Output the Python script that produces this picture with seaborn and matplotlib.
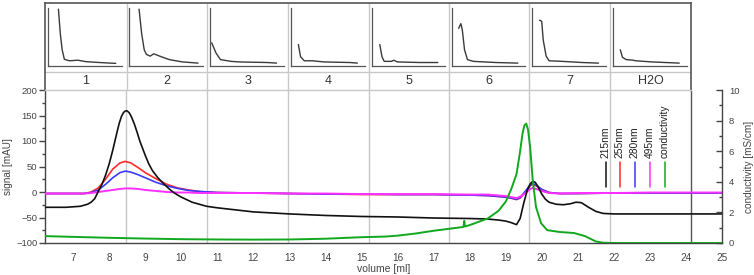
import numpy as np
import pandas as pd
import matplotlib
matplotlib.use("Agg")
import matplotlib.pyplot as plt
import seaborn as sns

# ---------------- data ----------------
x_215 = [6.22, 6.8, 7.0, 7.2, 7.4, 7.5, 7.6, 7.69, 7.8, 7.9, 8.0, 8.1, 8.16, 8.22, 8.28, 8.34, 8.4, 8.45, 8.5,
         8.56, 8.62, 8.7, 8.78, 8.85, 9.0, 9.1, 9.2, 9.35, 9.5, 9.65, 9.77, 9.9, 10.0, 10.3, 10.7, 11.0, 11.5,
         12.0, 13.0, 14.0, 15.0, 16.0, 17.0, 18.0, 18.5, 18.8, 19.0, 19.15, 19.3, 19.4, 19.5, 19.6, 19.68,
         19.75, 19.82, 19.9, 20.0, 20.1, 20.2, 20.4, 20.6, 20.8, 20.95, 21.1, 21.3, 21.5, 21.7, 22.0, 23.0,
         24.0, 25.0]
y_215 = [-30, -30, -29, -28, -24, -20, -13, 0, 15, 33, 55, 82, 100, 118, 135, 148, 156, 159, 159,
         155, 147, 133, 116, 100, 72, 55, 42, 28, 17, 7, 0, -6, -10, -20, -28, -31, -35,
         -39, -43, -46, -48, -49, -51, -52, -53, -55, -57, -60, -64, -52, -22, 4, 16,
         21, 19, 10, -4, -14, -20, -24, -25, -23, -20, -21, -30, -38, -42, -43, -43,
         -43, -43]

x_uv = [6.22, 7.0, 7.3, 7.5, 7.7, 7.9, 8.1, 8.3, 8.45, 8.6, 8.8, 9.0, 9.3, 9.6, 9.9, 10.2, 10.5, 11.0, 12.0, 13.0,
        14.0, 15.0, 16.0, 17.0, 18.0, 18.5, 19.0, 19.15, 19.3, 19.4, 19.55, 19.68, 19.75, 19.85, 20.0, 20.2,
        20.5, 21.0, 22.0, 23.0, 24.0, 25.0]
y_255 = [-3, -3, -3, 0, 8, 25, 45, 57, 60, 57, 48, 38, 26, 15, 8, 4, 1, -1, -2, -3,
         -4, -5, -5, -5, -6, -7, -10, -12, -15, -12, 0, 12, 15, 12, 5, -1,
         -3, -3, -2, -2, -2, -2]
y_280 = [-3, -3, -3, -1, 4, 15, 28, 38, 41, 39, 34, 28, 19, 12, 7, 3, 1, -1, -2, -3,
         -4, -4, -5, -5, -6, -7, -10, -12, -14, -11, 2, 14, 17, 13, 5, -1,
         -3, -3, -2, -2, -2, -2]
y_495 = [-3, -3, -3, -2, 0, 2, 4, 6, 7, 7, 6, 4, 2, 0, -1, -1, -2, -2, -2, -3,
         -3, -4, -4, -4, -5, -5, -8, -10, -12, -9, -2, 6, 8, 6, 2, -2,
         -3, -2, -2, -1, -1, -1]

x_cond = [6.22, 7.0, 8.0, 9.0, 10.0, 11.0, 12.0, 13.0, 14.0, 15.0, 15.65, 16.0, 16.5, 17.0, 17.5, 17.83, 17.85,
          17.87, 18.0, 18.5, 18.8, 19.0, 19.15, 19.3, 19.4, 19.47, 19.52, 19.57, 19.62, 19.68, 19.75, 19.84,
          19.98, 20.15, 20.5, 20.9, 21.2, 21.5, 21.7, 22.0, 23.0, 24.0, 25.0]
y_cond = [0.45, 0.40, 0.34, 0.29, 0.25, 0.23, 0.22, 0.23, 0.28, 0.38, 0.42, 0.48, 0.62, 0.80, 0.95, 1.05, 1.45,
          1.08, 1.17, 1.60, 2.10, 2.70, 3.50, 4.50, 6.00, 7.20, 7.70, 7.80, 7.40, 6.20, 4.10, 2.36,
          1.30, 0.84, 0.72, 0.65, 0.45, 0.10, 0.02, 0.0, 0.0, 0.0, 0.0]

fractions = ["1", "2", "3", "4", "5", "6", "7", "H2O"]
fraction_edges = [6.22, 8.48, 10.72, 12.96, 15.2, 17.43, 19.65, 21.89, 24.13]

# small absorbance traces shown above each fraction (normalised)
inset_x = {
    "1": [0.14, 0.165, 0.19, 0.22, 0.29, 0.40, 0.51, 0.69, 0.91],
    "2": [0.13, 0.165, 0.20, 0.23, 0.28, 0.33, 0.41, 0.54, 0.72, 0.93],
    "3": [0.02, 0.08, 0.14, 0.28, 0.40, 0.77, 0.90],
    "4": [0.10, 0.13, 0.18, 0.29, 0.45, 0.80, 0.90],
    "5": [0.11, 0.14, 0.17, 0.27, 0.30, 0.35, 0.66, 0.90],
    "6": [0.09, 0.12, 0.14, 0.17, 0.21, 0.29, 0.60, 0.90],
    "7": [0.10, 0.13, 0.15, 0.19, 0.23, 0.41, 0.68, 0.90],
    "H2O": [0.10, 0.13, 0.18, 0.27, 0.31, 0.53, 0.90],
}
inset_y = {
    "1": [0.98, 0.56, 0.28, 0.115, 0.09, 0.10, 0.075, 0.06, 0.045],
    "2": [0.98, 0.56, 0.28, 0.20, 0.17, 0.21, 0.17, 0.11, 0.07, 0.05],
    "3": [0.40, 0.22, 0.11, 0.08, 0.07, 0.06, 0.05],
    "4": [0.37, 0.16, 0.09, 0.09, 0.07, 0.06, 0.05],
    "5": [0.37, 0.16, 0.08, 0.08, 0.10, 0.07, 0.06, 0.06],
    "6": [0.65, 0.73, 0.62, 0.28, 0.11, 0.08, 0.06, 0.05],
    "7": [0.79, 0.77, 0.45, 0.17, 0.09, 0.08, 0.06, 0.05],
    "H2O": [0.28, 0.15, 0.11, 0.10, 0.09, 0.07, 0.05],
}

legend_labels = ["215nm", "255nm", "280nm", "495nm", "conductivity"]
legend_x = [21.78, 22.17, 22.58, 23.0, 23.42]

# ---------------- style ----------------
sns.set_style("white")
plt.rcParams["font.family"] = ["Liberation Sans", "DejaVu Sans"]
TXT = "#444444"
DARK = "#444444"
LIGHT = "#c8c8c8"
col_215 = "#111111"
col_255 = "#ff2a2a"
col_280 = "#3a3aff"
col_495 = "#ff30ff"
col_cond = "#12a81e"

W, H = 754, 275
fig = plt.figure(figsize=(W / 100, H / 100), dpi=100)

def fx(px):
    return px / W

def fy(py):
    return 1 - py / H

XMIN, XMAX = 6.22, 25.0
left_px, right_px, top_px, bot_px = 45, 722, 90, 243
ax = fig.add_axes([fx(left_px), fy(bot_px), fx(right_px - left_px), (bot_px - top_px) / H])
ax2 = ax.twinx()

df_uv = pd.DataFrame({"x": x_uv, "255": y_255, "280": y_280, "495": y_495})
sns.lineplot(x=x_215, y=y_215, ax=ax, color=col_215, lw=1.2, estimator=None, sort=False, zorder=5)
sns.lineplot(data=df_uv, x="x", y="255", ax=ax, color=col_255, lw=1.2, estimator=None, sort=False, zorder=4)
sns.lineplot(data=df_uv, x="x", y="280", ax=ax, color=col_280, lw=1.2, estimator=None, sort=False, zorder=4)
sns.lineplot(data=df_uv, x="x", y="495", ax=ax, color=col_495, lw=1.4, estimator=None, sort=False, zorder=4)
sns.lineplot(x=x_cond, y=y_cond, ax=ax2, color=col_cond, lw=1.4, estimator=None, sort=False)

ax.set_xlim(XMIN, XMAX)
ax.set_ylim(-100, 200)
ax2.set_ylim(0, 10)

# vertical fraction dividers
for e in fraction_edges[1:-1]:
    ax.axvline(e, color=LIGHT, lw=1.0, zorder=0)
ax.axvline(fraction_edges[-1], color="#555555", lw=1.0, zorder=0)

# ticks
ax.set_xticks(np.arange(7, 26, 1))
ax.set_xticks(np.arange(6.5, 25.0, 1), minor=True)
ax.set_yticks(np.arange(-100, 201, 50))
ax.set_yticks(np.arange(-100, 201, 25), minor=True)
ax2.set_yticks(np.arange(0, 11, 2))
ax2.set_yticks(np.arange(0, 11, 1), minor=True)
ax.tick_params(axis="x", which="major", length=0, labelsize=7.2, colors=TXT, pad=7)
ax.tick_params(axis="x", which="minor", length=3, direction="out", color=DARK, width=1)
ax.tick_params(axis="y", which="major", length=4, direction="out", color=DARK, width=1, labelsize=6.8, labelcolor=TXT, pad=1.5)
ax.tick_params(axis="y", which="minor", length=2.5, direction="out", color=DARK, width=1)
ax2.tick_params(axis="y", which="major", length=4, direction="in", color=DARK, width=1, labelsize=6.8, labelcolor=TXT, pad=5)
ax2.tick_params(axis="y", which="minor", length=2, direction="in", color=DARK, width=1)

for a in (ax, ax2):
    a.spines["top"].set_visible(False)
    a.spines["left"].set_color(DARK)
    a.spines["bottom"].set_color(DARK)
    a.spines["right"].set_color(DARK)
    for s in a.spines.values():
        s.set_linewidth(1.0)
ax.spines["right"].set_visible(False)
ax2.spines["left"].set_visible(False)
ax2.spines["bottom"].set_visible(False)

ax.set_xlabel("volume [ml]", fontsize=7.5, color=TXT, labelpad=1)
ax.set_ylabel("signal [mAU]", fontsize=7.2, color=TXT, labelpad=2)
ax2.set_ylabel("conductivity [mS/cm]", fontsize=7.2, color=TXT, labelpad=3)

# legend drawn as vertical labels with short vertical line samples
legend_cols = [col_215, col_255, col_280, col_495, col_cond]
for lab, lx, c in zip(legend_labels, legend_x, legend_cols):
    ax2.plot([lx, lx], [3.66, 5.3], color=c, lw=1.1)
    ax2.text(lx, 5.55, lab, rotation=90, ha="center", va="bottom", fontsize=7.4, color="#222222")

# ---------------- top box with fractions ----------------
box_top = 3
box = fig.add_axes([fx(left_px), fy(top_px), (691 - left_px) / W, (top_px - box_top) / H])
box.set_xlim(XMIN, fraction_edges[-1])
box.set_ylim(0, 1)
box.set_xticks([])
box.set_yticks([])
for side in ("left", "top", "right"):
    box.spines[side].set_color("#555555")
    box.spines[side].set_linewidth(1.2)
box.spines["bottom"].set_color(LIGHT)
box.spines["bottom"].set_linewidth(1.0)
label_row = (top_px - 72) / (top_px - box_top)
box.axhline(label_row, color=LIGHT, lw=1.0)
for e in fraction_edges[1:-1]:
    box.axvline(e, color=LIGHT, lw=1.0)
for lab, a, b in zip(fractions, fraction_edges[:-1], fraction_edges[1:]):
    box.text((a + b) / 2, label_row / 2, lab, ha="center", va="center", fontsize=9, color="#333333")

# inset traces
px_per_ml = (right_px - left_px) / (XMAX - XMIN)
for lab, a, b in zip(fractions, fraction_edges[:-1], fraction_edges[1:]):
    l_px = left_px + (a - XMIN) * px_per_ml + 3
    r_px = left_px + (b - XMIN) * px_per_ml - 4
    ins = fig.add_axes([fx(l_px), fy(66), (r_px - l_px) / W, (66 - 8) / H])
    sns.lineplot(x=inset_x[lab], y=inset_y[lab], ax=ins, color="#3a3a3a", lw=1.0, estimator=None, sort=False)
    ins.set_xlim(0, 1)
    ins.set_ylim(0, 1)
    ins.patch.set_alpha(0)
    for side in ("top", "right"):
        ins.spines[side].set_visible(False)
    for side in ("left", "bottom"):
        ins.spines[side].set_color("#555555")
        ins.spines[side].set_linewidth(0.9)
    ins.set_xticks(np.linspace(0, 1, 36))
    ins.set_yticks(np.linspace(0, 1, 26))
    ins.tick_params(length=1.8, width=0.7, color="#777777", direction="out", labelbottom=False, labelleft=False)

fig.savefig("out.png", dpi=100)
